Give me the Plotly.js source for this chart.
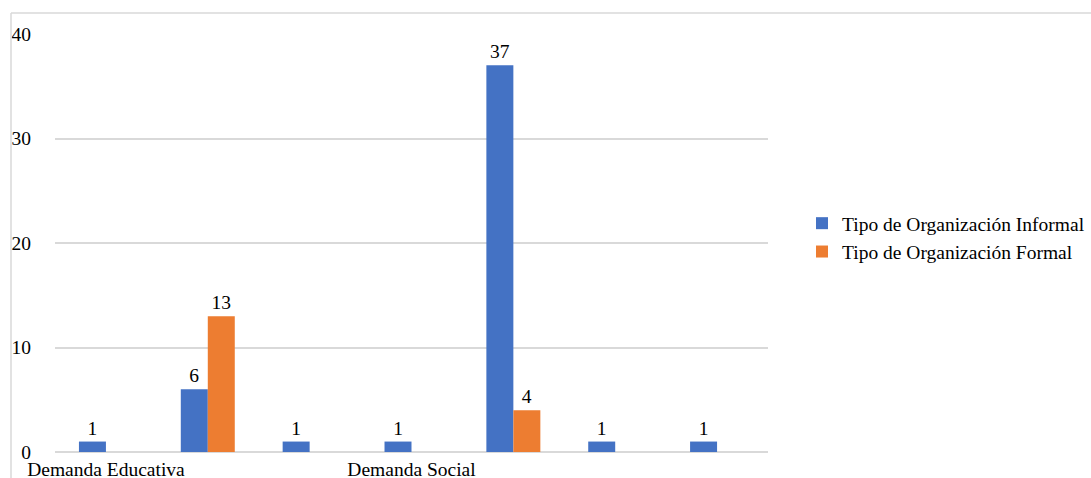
<!DOCTYPE html>
<html>
<head>
<meta charset="utf-8">
<script src="https://cdn.plot.ly/plotly-3.0.1.min.js"></script>
<style>html,body{margin:0;padding:0;background:#fff;}#chart{width:1091px;height:478px;}</style>
</head>
<body>
<div id="chart"></div>
<script>
const categories = [0, 1, 2, 3, 4, 5, 6];
const tickLabels = ["Demanda Educativa", "", "", "Demanda Social", "", "", ""];
const informal = [1, 6, 1, 1, 37, 1, 1];
const formal = [null, 13, null, null, 4, null, null];
const seriesNames = ["Tipo de Organización Informal", "Tipo de Organización Formal"];

const W = 1091, H = 478;
const L = 55, R = 323, T = 34, B = 26;
const pw = W - L - R, ph = H - T - B;
const px = v => (v - L) / pw;
const py = v => (H - B - v) / ph;

const font = {family: 'Liberation Serif, Times New Roman, serif', size: 19.5, color: '#000'};

const traces = [
  {type: 'bar', x: categories, y: informal, name: seriesNames[0],
   marker: {color: '#4472C4'}, text: informal.map(v => v == null ? '' : String(v)),
   textposition: 'outside', textfont: font, cliponaxis: false},
  {type: 'bar', x: categories, y: formal, name: seriesNames[1],
   marker: {color: '#ED7D31'}, text: formal.map(v => v == null ? '' : String(v)),
   textposition: 'outside', textfont: font, cliponaxis: false}
];

const layout = {
  width: W, height: H,
  margin: {l: L, r: R, t: T, b: B, pad: 0, autoexpand: false},
  paper_bgcolor: '#fff', plot_bgcolor: '#fff',
  font: font,
  barmode: 'group', bargap: 0.47, bargroupgap: 0,
  showlegend: true,
  legend: {x: px(802), y: py(204), xanchor: 'left', yanchor: 'top', font: font,
           bgcolor: 'rgba(0,0,0,0)', tracegroupgap: 0, traceorder: 'normal'},
  xaxis: {range: [-0.5, 6.5], tickmode: 'array', tickvals: categories, ticktext: tickLabels,
          showgrid: false, zeroline: false, showline: false, ticks: '', tickfont: font,
          ticklabelstandoff: 3, fixedrange: true},
  yaxis: {range: [0, 40], dtick: 10, tick0: 0, showgrid: true, gridcolor: '#d9d9d9', gridwidth: 2,
          zeroline: true, zerolinecolor: '#d9d9d9', zerolinewidth: 2, showline: false,
          ticks: '', tickfont: font, ticklabelstandoff: 23, fixedrange: true},
  shapes: [
    {type: 'line', xref: 'paper', yref: 'paper', x0: px(11), x1: px(1095), y0: py(13), y1: py(13),
     line: {color: '#d9d9d9', width: 1.5}},
    {type: 'line', xref: 'paper', yref: 'paper', x0: px(11), x1: px(11), y0: py(13), y1: py(482),
     line: {color: '#d9d9d9', width: 1.5}}
  ]
};

Plotly.newPlot('chart', traces, layout, {displayModeBar: false, staticPlot: true});
</script>
</body>
</html>
